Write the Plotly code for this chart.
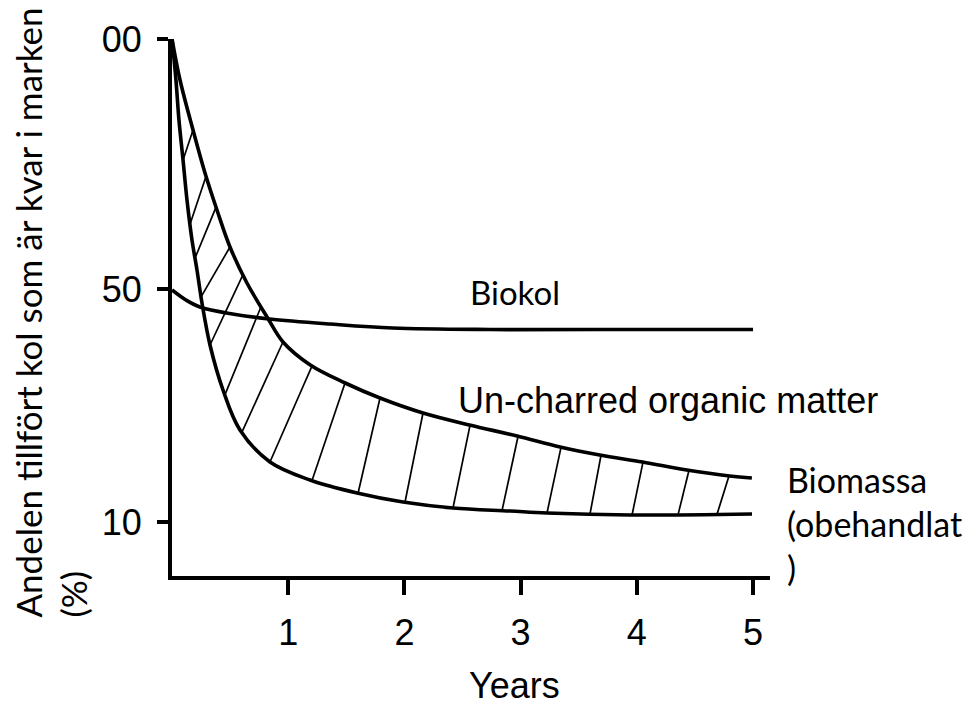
import numpy as np
import plotly.graph_objects as go

# ---- data ----
years_biokol = [0, 0.12, 0.24, 0.52, 0.84, 1.36, 1.9, 2.74, 3.68, 5.0]
biokol = [49.8, 47.8, 46.4, 45.0, 44.0, 43.0, 42.2, 41.9, 41.9, 41.9]

years_upper = [0, 0.069, 0.181, 0.284, 0.387, 0.499, 0.645, 0.818, 0.955, 1.19,
               1.49, 1.79, 2.16, 2.56, 2.97, 3.34, 3.68, 4.05, 4.43, 4.80, 4.99]
upper = [100, 91.8, 81.8, 73.2, 65.8, 58.4, 51.2, 44.4, 39.4, 34.8,
         31.2, 28.2, 25.2, 22.8, 20.6, 18.4, 16.8, 15.4, 13.8, 12.6, 12.2]

years_lower = [0, 0.034, 0.060, 0.095, 0.129, 0.172, 0.215, 0.258, 0.327, 0.439,
               0.585, 0.843, 1.188, 1.592, 1.988, 2.418, 2.909, 3.227, 3.941, 4.991]
lower = [100, 91.8, 83.8, 75.8, 67.8, 59.8, 53.8, 47.2, 38.8, 29.8,
         21.8, 15.4, 11.8, 9.2, 7.4, 6.2, 5.6, 5.2, 4.8, 5.0]

hatch_lower_x = [0.095, 0.155, 0.198, 0.250, 0.327, 0.456, 0.602, 0.843, 1.205,
                 1.601, 2.005, 2.418, 2.840, 3.227, 3.597, 3.959, 4.355, 4.690]
hatch_upper_x = [0.181, 0.293, 0.379, 0.499, 0.611, 0.766, 0.955, 1.205, 1.489,
                 1.790, 2.160, 2.565, 2.978, 3.348, 3.692, 4.053, 4.449, 4.793]

x_tickvals = [1, 2, 3, 4, 5]
x_ticktext = ["1", "2", "3", "4", "5"]
y_tickvals = [100, 50, 3.4]
y_ticktext = ["00", "50", "10"]

# ---- hatch segments between the two un-charred curves ----
hx, hy = [], []
for xl, xu in zip(hatch_lower_x, hatch_upper_x):
    hx += [xl, xu, None]
    hy += [float(np.interp(xl, years_lower, lower)),
           float(np.interp(xu, years_upper, upper)), None]

fig = go.Figure()
fig.add_trace(go.Scatter(x=hx, y=hy, mode="lines",
                         line=dict(color="black", width=1.7),
                         hoverinfo="skip", cliponaxis=False))
for xs, ys in [(years_biokol, biokol), (years_upper, upper), (years_lower, lower)]:
    fig.add_trace(go.Scatter(x=xs, y=ys, mode="lines",
                             line=dict(color="black", width=3.6, shape="spline", smoothing=1.0),
                             cliponaxis=False, hoverinfo="skip"))

sans = "Liberation Sans, Arial, sans-serif"
cal = "Lato, Carlito, Calibri, sans-serif"

fig.update_layout(
    width=980, height=706,
    margin=dict(l=172, r=210, t=39, b=130),
    paper_bgcolor="white", plot_bgcolor="white",
    showlegend=False,
    xaxis=dict(range=[0, 5.146], showgrid=False, zeroline=False,
               showline=True, linecolor="black", linewidth=4,
               ticks="outside", ticklen=15, tickwidth=4, tickcolor="black",
               tickvals=x_tickvals, ticktext=x_ticktext,
               tickfont=dict(family=sans, size=36, color="black"),
               ticklabelstandoff=7),
    yaxis=dict(range=[-7.4, 100], showgrid=False, zeroline=False,
               showline=True, linecolor="black", linewidth=4,
               ticks="outside", ticklen=11, tickwidth=4, tickcolor="black",
               tickvals=y_tickvals, ticktext=y_ticktext,
               tickfont=dict(family=sans, size=36, color="black"),
               ticklabelstandoff=8),
    annotations=[
        dict(text="Years", x=0.5727, y=-0.2039, xref="paper", yref="paper",
             showarrow=False, xanchor="center", yanchor="middle",
             font=dict(family=sans, size=36, color="black")),
        dict(text="Biokol", x=2.952, y=49.5, xref="x", yref="y",
             showarrow=False, xanchor="center", yanchor="middle",
             font=dict(family=cal, size=33, color="black")),
        dict(text="Un-charred organic matter", x=4.264, y=27.7, xref="x", yref="y",
             showarrow=False, xanchor="center", yanchor="middle",
             font=dict(family=sans, size=36, color="black")),
        dict(text="Biomassa<br>(obehandlat<br>)", x=1.025, y=0.2217,
             xref="paper", yref="paper",
             showarrow=False, xanchor="left", yanchor="top", align="left",
             font=dict(family=cal, size=34, color="black")),
        dict(text="Andelen tillfört kol som är kvar i marken<br>(%)",
             x=-0.203, y=0.4898, xref="paper", yref="paper",
             showarrow=False, xanchor="center", yanchor="middle", align="left",
             textangle=-90,
             font=dict(family=cal, size=35, color="black")),
    ],
)

fig.write_html("out.html", config={"displayModeBar": False},
               post_script="document.body.style.margin='0px';")
